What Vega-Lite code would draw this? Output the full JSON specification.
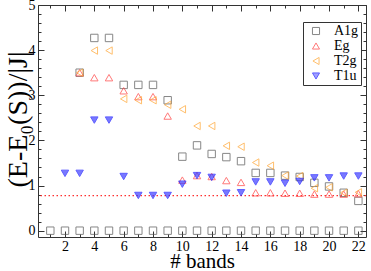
{
  "$schema": "https://vega.github.io/schema/vega-lite/v6.json",
  "width": 328,
  "height": 232,
  "autosize": "none",
  "padding": {"left": 38, "top": 5, "right": 5, "bottom": 34},
  "background": "white",
  "config": {
    "view": {"stroke": null},
    "axis": {"grid": false, "domainColor": "#333", "tickColor": "#333", "labelFont": "Liberation Serif", "titleFont": "Liberation Serif", "labelColor": "#000", "titleColor": "#000", "labelFontSize": 14, "titleFontWeight": "normal", "offset": 0},
    "legend": {"labelFont": "Liberation Serif"}
  },
  "datasets": {
    "pts": [
      {"band": 1, "s": "A1g", "v": 0}, {"band": 2, "s": "A1g", "v": 0}, {"band": 3, "s": "A1g", "v": 0}, {"band": 4, "s": "A1g", "v": 0},
      {"band": 5, "s": "A1g", "v": 0}, {"band": 6, "s": "A1g", "v": 0}, {"band": 7, "s": "A1g", "v": 0}, {"band": 8, "s": "A1g", "v": 0},
      {"band": 9, "s": "A1g", "v": 0}, {"band": 10, "s": "A1g", "v": 0}, {"band": 11, "s": "A1g", "v": 0}, {"band": 12, "s": "A1g", "v": 0},
      {"band": 13, "s": "A1g", "v": 0}, {"band": 14, "s": "A1g", "v": 0}, {"band": 15, "s": "A1g", "v": 0}, {"band": 16, "s": "A1g", "v": 0},
      {"band": 17, "s": "A1g", "v": 0}, {"band": 18, "s": "A1g", "v": 0}, {"band": 19, "s": "A1g", "v": 0}, {"band": 20, "s": "A1g", "v": 0},
      {"band": 21, "s": "A1g", "v": 0}, {"band": 22, "s": "A1g", "v": 0},
      {"band": 3, "s": "A1g", "v": 3.5}, {"band": 4, "s": "A1g", "v": 4.27}, {"band": 5, "s": "A1g", "v": 4.27},
      {"band": 6, "s": "A1g", "v": 3.23}, {"band": 7, "s": "A1g", "v": 3.23}, {"band": 8, "s": "A1g", "v": 3.23},
      {"band": 9, "s": "A1g", "v": 2.89}, {"band": 10, "s": "A1g", "v": 1.64}, {"band": 11, "s": "A1g", "v": 1.89},
      {"band": 12, "s": "A1g", "v": 1.7}, {"band": 13, "s": "A1g", "v": 1.63}, {"band": 14, "s": "A1g", "v": 1.54},
      {"band": 15, "s": "A1g", "v": 1.28}, {"band": 16, "s": "A1g", "v": 1.28}, {"band": 17, "s": "A1g", "v": 1.22},
      {"band": 18, "s": "A1g", "v": 1.19}, {"band": 19, "s": "A1g", "v": 1.06}, {"band": 20, "s": "A1g", "v": 0.98},
      {"band": 21, "s": "A1g", "v": 0.84}, {"band": 22, "s": "A1g", "v": 0.66},
      {"band": 3, "s": "Eg", "v": 3.5}, {"band": 4, "s": "Eg", "v": 3.39}, {"band": 5, "s": "Eg", "v": 3.39},
      {"band": 6, "s": "Eg", "v": 3.1}, {"band": 7, "s": "Eg", "v": 2.97}, {"band": 8, "s": "Eg", "v": 2.97},
      {"band": 9, "s": "Eg", "v": 2.54}, {"band": 10, "s": "Eg", "v": 1.12}, {"band": 11, "s": "Eg", "v": 1.22},
      {"band": 12, "s": "Eg", "v": 1.2}, {"band": 13, "s": "Eg", "v": 1.11}, {"band": 14, "s": "Eg", "v": 1.07},
      {"band": 15, "s": "Eg", "v": 0.84}, {"band": 16, "s": "Eg", "v": 0.84}, {"band": 17, "s": "Eg", "v": 0.83},
      {"band": 18, "s": "Eg", "v": 0.83}, {"band": 19, "s": "Eg", "v": 0.81}, {"band": 20, "s": "Eg", "v": 0.81},
      {"band": 21, "s": "Eg", "v": 0.81}, {"band": 22, "s": "Eg", "v": 0.82},
      {"band": 3, "s": "T2g", "v": 3.5}, {"band": 4, "s": "T2g", "v": 3.99}, {"band": 5, "s": "T2g", "v": 3.99},
      {"band": 6, "s": "T2g", "v": 2.92}, {"band": 7, "s": "T2g", "v": 2.89}, {"band": 8, "s": "T2g", "v": 2.89},
      {"band": 9, "s": "T2g", "v": 2.79}, {"band": 10, "s": "T2g", "v": 2.69}, {"band": 11, "s": "T2g", "v": 2.32},
      {"band": 12, "s": "T2g", "v": 2.32}, {"band": 13, "s": "T2g", "v": 1.88}, {"band": 14, "s": "T2g", "v": 1.86},
      {"band": 15, "s": "T2g", "v": 1.51}, {"band": 16, "s": "T2g", "v": 1.44}, {"band": 17, "s": "T2g", "v": 1.22},
      {"band": 18, "s": "T2g", "v": 1.21}, {"band": 19, "s": "T2g", "v": 0.94}, {"band": 20, "s": "T2g", "v": 0.96},
      {"band": 21, "s": "T2g", "v": 0.84}, {"band": 22, "s": "T2g", "v": 0.85},
      {"band": 2, "s": "T1u", "v": 1.27}, {"band": 3, "s": "T1u", "v": 1.27}, {"band": 4, "s": "T1u", "v": 2.45},
      {"band": 5, "s": "T1u", "v": 2.45}, {"band": 6, "s": "T1u", "v": 1.2}, {"band": 7, "s": "T1u", "v": 0.78},
      {"band": 8, "s": "T1u", "v": 0.78}, {"band": 9, "s": "T1u", "v": 0.78}, {"band": 10, "s": "T1u", "v": 1.03},
      {"band": 11, "s": "T1u", "v": 1.22}, {"band": 12, "s": "T1u", "v": 1.18}, {"band": 13, "s": "T1u", "v": 0.83},
      {"band": 14, "s": "T1u", "v": 0.84}, {"band": 15, "s": "T1u", "v": 1.08}, {"band": 16, "s": "T1u", "v": 1.08},
      {"band": 17, "s": "T1u", "v": 1.05}, {"band": 18, "s": "T1u", "v": 1.09}, {"band": 19, "s": "T1u", "v": 1.17},
      {"band": 20, "s": "T1u", "v": 1.17}, {"band": 21, "s": "T1u", "v": 1.21}, {"band": 22, "s": "T1u", "v": 1.21}
    ],
    "ref": [{"v": 0.775}]
  },
  "layer": [
    {
      "data": {"name": "ref"},
      "mark": {"type": "rule", "color": "#ff3030", "strokeDash": [1.5, 2.5], "strokeWidth": 1.3},
      "encoding": {
        "y": {"field": "v", "type": "quantitative", "scale": {"domain": [-0.14, 5], "nice": false, "zero": false}, "axis": null}
      }
    },
    {
      "data": {"name": "pts"},
      "mark": {"type": "point", "filled": false, "strokeWidth": 1, "size": 55},
      "encoding": {
        "x": {"field": "band", "type": "quantitative", "scale": {"domain": [0.16, 22.52], "nice": false, "zero": false},
          "axis": {"orient": "bottom", "values": [2, 4, 6, 8, 10, 12, 14, 16, 18, 20, 22], "tickSize": -6, "labelPadding": 8, "domain": true,
            "labelFont": "Liberation Serif", "titleFont": "Liberation Serif",
            "title": "# bands", "titleFontSize": 21, "titleY": 30, "titleBaseline": "alphabetic"}},
        "y": {"field": "v", "type": "quantitative", "scale": {"domain": [-0.14, 5], "nice": false, "zero": false},
          "axis": {"orient": "left", "values": [0, 1, 2, 3, 4, 5], "tickSize": -6, "labelPadding": 9, "domain": true,
            "labelFont": "Liberation Serif", "titleFont": "Liberation Serif",
            "title": "(E-E₀(S))/|J|", "titleFontSize": 28, "titleX": -12, "titleY": 114, "titleAngle": 270, "titleBaseline": "alphabetic", "titleAlign": "center"}},
        "shape": {"field": "s", "type": "nominal",
          "scale": {"domain": ["A1g", "Eg", "T2g", "T1u"], "range": ["square", "triangle-up", "triangle-left", "triangle-down"]},
          "legend": {"orient": "none", "legendX": 265, "legendY": 17, "title": null, "strokeColor": "#333", "fillColor": "white", "padding": 2, "symbolOffset": 4, "labelFont": "Liberation Serif", "labelFontSize": 14, "labelColor": "#000", "symbolSize": 50, "rowPadding": 1, "labelOffset": 11, "symbolStrokeWidth": 1}},
        "stroke": {"field": "s", "type": "nominal",
          "scale": {"domain": ["A1g", "Eg", "T2g", "T1u"], "range": ["#555555", "#ff4040", "#ffa530", "#1a1aff"]},
          "legend": {"orient": "none", "legendX": 265, "legendY": 17, "title": null, "strokeColor": "#333", "fillColor": "white", "padding": 2, "symbolOffset": 4, "labelFont": "Liberation Serif", "labelFontSize": 14, "labelColor": "#000", "symbolSize": 50, "rowPadding": 1, "labelOffset": 11, "symbolStrokeWidth": 1}},
        "fill": {"field": "s", "type": "nominal",
          "scale": {"domain": ["A1g", "Eg", "T2g", "T1u"], "range": ["transparent", "transparent", "transparent", "#4040ff"]},
          "legend": {"orient": "none", "legendX": 265, "legendY": 17, "title": null, "strokeColor": "#333", "fillColor": "white", "padding": 2, "symbolOffset": 4, "labelFont": "Liberation Serif", "labelFontSize": 14, "labelColor": "#000", "symbolSize": 50, "rowPadding": 1, "labelOffset": 11, "symbolStrokeWidth": 1}}
      }
    },
    {
      "data": {"name": "pts"},
      "mark": {"type": "point", "opacity": 0},
      "encoding": {
        "x": {"field": "band", "type": "quantitative",
          "axis": {"orient": "bottom", "values": [1, 2, 3, 4, 5, 6, 7, 8, 9, 10, 11, 12, 13, 14, 15, 16, 17, 18, 19, 20, 21, 22], "tickSize": -3, "labels": false, "domain": false, "title": null}},
        "y": {"field": "v", "type": "quantitative",
          "axis": {"orient": "left", "values": [0, 0.2, 0.4, 0.6, 0.8, 1, 1.2, 1.4, 1.6, 1.8, 2, 2.2, 2.4, 2.6, 2.8, 3, 3.2, 3.4, 3.6, 3.8, 4, 4.2, 4.4, 4.6, 4.8, 5], "tickSize": -3, "labels": false, "domain": false, "title": null}}
      }
    },
    {
      "data": {"name": "pts"},
      "mark": {"type": "point", "opacity": 0},
      "encoding": {
        "x": {"field": "band", "type": "quantitative",
          "axis": {"orient": "top", "values": [2, 4, 6, 8, 10, 12, 14, 16, 18, 20, 22], "tickSize": -6, "labels": false, "domain": true, "title": null}},
        "y": {"field": "v", "type": "quantitative",
          "axis": {"orient": "right", "values": [0, 1, 2, 3, 4, 5], "tickSize": -6, "labels": false, "domain": true, "title": null}}
      }
    },
    {
      "data": {"name": "pts"},
      "mark": {"type": "point", "opacity": 0},
      "encoding": {
        "x": {"field": "band", "type": "quantitative",
          "axis": {"orient": "top", "values": [1, 2, 3, 4, 5, 6, 7, 8, 9, 10, 11, 12, 13, 14, 15, 16, 17, 18, 19, 20, 21, 22], "tickSize": -3, "labels": false, "domain": false, "title": null}},
        "y": {"field": "v", "type": "quantitative",
          "axis": {"orient": "right", "values": [0, 0.2, 0.4, 0.6, 0.8, 1, 1.2, 1.4, 1.6, 1.8, 2, 2.2, 2.4, 2.6, 2.8, 3, 3.2, 3.4, 3.6, 3.8, 4, 4.2, 4.4, 4.6, 4.8, 5], "tickSize": -3, "labels": false, "domain": false, "title": null}}
      }
    }
  ],
  "resolve": {"axis": {"x": "independent", "y": "independent"}}
}
